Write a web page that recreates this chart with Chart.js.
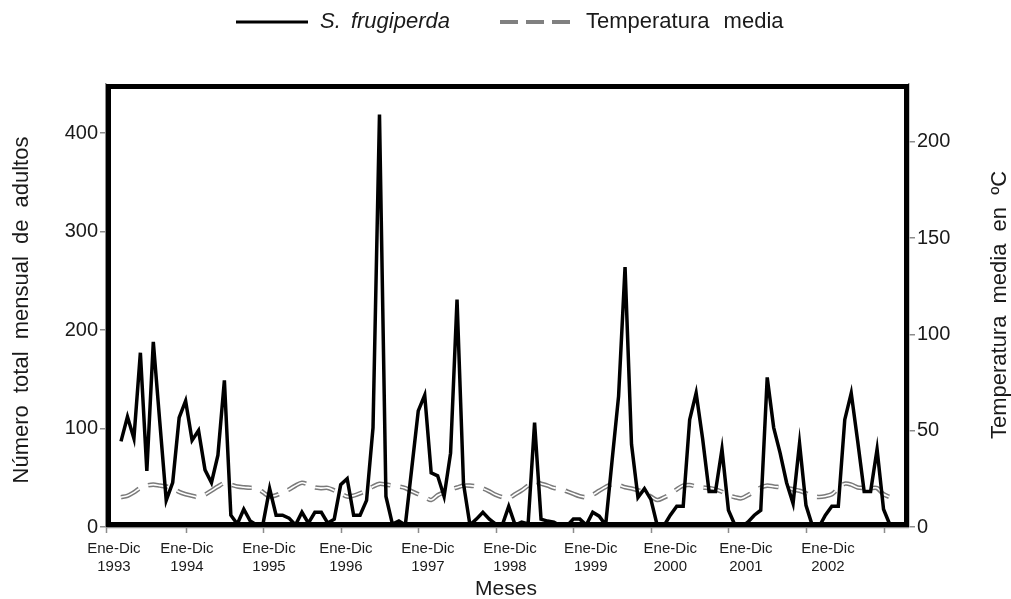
<!DOCTYPE html>
<html>
<head>
<meta charset="utf-8">
<script src="https://cdn.jsdelivr.net/npm/chart.js@4.4.1/dist/chart.umd.min.js"></script>
<style>
  html, body { margin: 0; padding: 0; background: #fff; }
</style>
</head>
<body>
<canvas id="chart" width="1011" height="599"></canvas>
<script>
// monthly totals, Jan 1993 .. Dec 2002
const frugiperda = [
  87, 112, 90, 177, 57, 188, 107, 27, 45, 111, 128, 88,
  98, 58, 45, 73, 149, 12, 3, 18, 6, 2, 4, 39,
  12, 12, 9, 2, 15, 4, 15, 15, 4, 8, 43, 49,
  12, 12, 27, 101, 419, 31, 3, 6, 2, 60, 118, 134,
  55, 52, 31, 75, 231, 44, 2, 8, 15, 8, 3, 2,
  21, 2, 5, 3, 106, 8, 6, 5, 1, 1, 8, 8,
  2, 15, 11, 2, 68, 133, 264, 84, 30, 39, 28, 1,
  1, 12, 21, 21, 109, 136, 90, 36, 36, 79, 17, 2,
  0, 5, 12, 17, 152, 101, 75, 45, 24, 85, 22, 1,
  0, 12, 21, 21, 109, 136, 87, 36, 36, 79, 18, 2
];

// mean temperature (ºC), same months
const temperatura = [
  15.5, 16.2, 18, 20.3, 21.5, 22, 21.5, 21, 20.2, 18.2, 17, 16.2,
  15.5, 16.8, 18.9, 21, 22.8, 22, 21, 20.6, 20.4, 20.2, 18, 15.8,
  16.5, 18, 19.5, 21.5, 23, 22, 20.5, 20.2, 20.3, 19, 17.5, 15.8,
  16.3, 17.5, 19, 21, 22.4, 22, 21.5, 21, 20.2, 18.5, 17, 15.5,
  14, 16.5, 18, 19.5, 20.5, 21.5, 21.5, 21, 20, 18.5, 16.7, 15.5,
  15, 17, 19, 21.5, 23.5, 22.5, 21.5, 20.3, 20, 18.5, 17.2, 16,
  15.5, 16.7, 18.8, 20.8, 22.2, 21.8, 20.6, 20, 19.1, 18, 15.8, 14,
  15.3, 17, 19.5, 21.5, 21.8, 21, 20.5, 20.2, 19.5, 18.3, 16.5, 15.5,
  14.9, 16.5, 18.5, 20.5, 21.5, 21, 20.7, 20.3, 19.5, 18.8, 17.5, 16,
  15.6, 16, 17, 20, 22.5, 22, 20.5, 20.3, 20.2, 20.2, 17, 15.5
];

const years = [1993, 1994, 1995, 1996, 1997, 1998, 1999, 2000, 2001, 2002];
const yearLabelAt = [-1.1, 10.2, 22.9, 34.8, 47.5, 60.2, 72.7, 85, 96.7, 109.4];
const yearTickAt = [-2.32, 10, 22, 34, 46, 58, 70, 82, 94, 106, 118];

const FONT = '"Liberation Sans", Arial, sans-serif';
const INK = '#1a1a1a';
const AXIS_GREY = '#8c8c8c';

const asPoints = arr => arr.map((v, i) => ({ x: i, y: v }));

// frame, x tick marks, axis titles and legend
const decor = {
  id: 'decor',
  afterDatasetsDraw(chart) {
    const { ctx, chartArea: a, scales } = chart;
    ctx.save();

    // x tick marks
    ctx.strokeStyle = AXIS_GREY;
    ctx.lineWidth = 1.5;
    ctx.beginPath();
    ctx.moveTo(a.left, a.bottom + 0.5);
    ctx.lineTo(a.right, a.bottom + 0.5);
    yearTickAt.forEach(v => {
      const px = Math.round(scales.x.getPixelForValue(v)) + 0.5;
      ctx.moveTo(px, a.bottom);
      ctx.lineTo(px, a.bottom + 6);
    });
    ctx.stroke();

    // heavy plot-area border
    ctx.strokeStyle = '#000';
    ctx.lineWidth = 5;
    ctx.strokeRect(a.left + 2.5, a.top + 2.5, a.right - a.left - 5, a.bottom - a.top - 5);

    ctx.fillStyle = INK;
    ctx.textBaseline = 'middle';
    ctx.textAlign = 'center';
    ctx.wordSpacing = '6px';

    // axis titles
    ctx.font = '22px ' + FONT;
    ctx.save();
    ctx.translate(22, 310);
    ctx.rotate(-Math.PI / 2);
    ctx.fillText('Número total mensual de adultos', 0, 0);
    ctx.restore();

    ctx.save();
    ctx.translate(1000, 305);
    ctx.rotate(-Math.PI / 2);
    ctx.fillText('Temperatura media en ºC', 0, 0);
    ctx.restore();

    ctx.font = '21px ' + FONT;
    ctx.fillText('Meses', 506, 589);

    // legend
    const ly = 22;
    ctx.wordSpacing = '4px';
    ctx.strokeStyle = '#000';
    ctx.lineWidth = 3;
    ctx.beginPath();
    ctx.moveTo(236, ly);
    ctx.lineTo(308, ly);
    ctx.stroke();
    ctx.textAlign = 'left';
    ctx.font = 'italic 22px ' + FONT;
    ctx.fillText('S. frugiperda', 320, ly);

    ctx.strokeStyle = '#808080';
    ctx.lineWidth = 4;
    ctx.setLineDash([18, 8]);
    ctx.beginPath();
    ctx.moveTo(500, ly);
    ctx.lineTo(578, ly);
    ctx.stroke();
    ctx.setLineDash([]);
    ctx.wordSpacing = '8px';
    ctx.font = '22px ' + FONT;
    ctx.fillText('Temperatura media', 586, ly);

    ctx.restore();
  }
};

new Chart(document.getElementById('chart'), {
  type: 'line',
  data: {
    datasets: [
      {
        label: 'S. frugiperda',
        data: asPoints(frugiperda),
        yAxisID: 'y',
        borderColor: '#000',
        borderWidth: 3.5,
        pointRadius: 0,
        tension: 0,
        order: 0
      },
      {
        label: 'Temperatura media',
        data: asPoints(temperatura),
        yAxisID: 'y2',
        borderColor: '#fff',
        borderWidth: 1.6,
        borderDash: [20, 10],
        pointRadius: 0,
        tension: 0.3,
        order: 1
      },
      {
        label: 'Temperatura media (borde)',
        data: asPoints(temperatura),
        yAxisID: 'y2',
        borderColor: '#7a7a7a',
        borderWidth: 4.6,
        borderDash: [20, 10],
        pointRadius: 0,
        tension: 0.3,
        order: 2
      }
    ]
  },
  options: {
    responsive: false,
    animation: false,
    events: [],
    layout: { padding: { top: 84, left: 0, right: 0, bottom: 0 } },
    scales: {
      x: {
        type: 'linear',
        min: -2.32,
        max: 121.94,
        afterBuildTicks: s => { s.ticks = yearLabelAt.map(v => ({ value: v })); },
        afterFit: s => { s.height = 72; },
        ticks: {
          autoSkip: false,
          maxRotation: 0,
          minRotation: 0,
          padding: 13,
          color: INK,
          font: { size: 15, family: FONT, lineHeight: 1.2 },
          callback: (v, i) => ['Ene-Dic', String(years[i])]
        },
        grid: { display: false, drawTicks: false },
        border: { display: false }
      },
      y: {
        position: 'left',
        min: 0,
        max: 450,
        afterFit: s => { s.width = 106; },
        ticks: {
          stepSize: 100,
          includeBounds: false,
          padding: 2,
          color: INK,
          font: { size: 20, family: FONT }
        },
        grid: { display: true, drawOnChartArea: false, tickLength: 6, color: AXIS_GREY, lineWidth: 1.5 },
        border: { display: true, color: AXIS_GREY, width: 1.5 }
      },
      y2: {
        position: 'right',
        min: 0,
        max: 230,
        afterFit: s => { s.width = 102; },
        ticks: {
          stepSize: 50,
          includeBounds: false,
          padding: 2,
          color: INK,
          font: { size: 20, family: FONT }
        },
        grid: { display: true, drawOnChartArea: false, tickLength: 6, color: AXIS_GREY, lineWidth: 1.5 },
        border: { display: true, color: AXIS_GREY, width: 1.5 }
      }
    },
    plugins: {
      legend: { display: false },
      tooltip: { enabled: false }
    }
  },
  plugins: [decor]
});
</script>
</body>
</html>
